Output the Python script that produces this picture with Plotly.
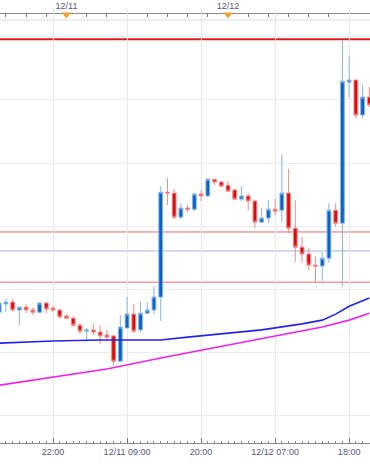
import pandas as pd
import plotly.graph_objects as go

# ---- data ----
times = pd.date_range("2012-12-10 14:00", periods=56, freq="h")

opens = [1.29528, 1.29554, 1.29560, 1.29535, 1.29544, 1.29535, 1.29528, 1.29557,
         1.29541, 1.29535, 1.29516, 1.29509, 1.29487, 1.29468, 1.29472, 1.29465,
         1.29456, 1.29453, 1.29373, 1.29478, 1.29522, 1.29472, 1.29525, 1.29535,
         1.29576, 1.29908, 1.29905, 1.29829, 1.29858, 1.29854, 1.29902, 1.29896,
         1.29949, 1.29940, 1.29930, 1.29915, 1.29886, 1.29896, 1.29880, 1.29813,
         1.29826, 1.29854, 1.29851, 1.29905, 1.29794, 1.29734, 1.29712, 1.29677,
         1.29674, 1.29699, 1.29851, 1.29810, 1.30256, 1.30263, 1.30152, 1.30209]
highs = [1.29570, 1.29570, 1.29570, 1.29544, 1.29554, 1.29544, 1.29560, 1.29560,
         1.29547, 1.29538, 1.29522, 1.29516, 1.29494, 1.29478, 1.29491, 1.29487,
         1.29472, 1.29456, 1.29519, 1.29576, 1.29554, 1.29560, 1.29560, 1.29611,
         1.29927, 1.29953, 1.29918, 1.29873, 1.29867, 1.29905, 1.29915, 1.29953,
         1.29949, 1.29943, 1.29943, 1.29918, 1.29927, 1.29905, 1.29883, 1.29858,
         1.29883, 1.29886, 1.30028, 1.29981, 1.29883, 1.29766, 1.29731, 1.29703,
         1.29718, 1.29873, 1.29873, 1.30389, 1.30339, 1.30263, 1.30247, 1.30241]
lows = [1.29509, 1.29528, 1.29530, 1.29487, 1.29525, 1.29519, 1.29525, 1.29525,
        1.29528, 1.29509, 1.29506, 1.29481, 1.29459, 1.29434, 1.29456, 1.29427,
        1.29434, 1.29361, 1.29370, 1.29478, 1.29462, 1.29465, 1.29522, 1.29522,
        1.29500, 1.29867, 1.29823, 1.29823, 1.29845, 1.29848, 1.29880, 1.29892,
        1.29930, 1.29924, 1.29908, 1.29883, 1.29880, 1.29851, 1.29794, 1.29810,
        1.29810, 1.29835, 1.29813, 1.29778, 1.29687, 1.29684, 1.29661, 1.29623,
        1.29627, 1.29684, 1.29797, 1.29611, 1.30206, 1.30142, 1.30142, 1.30177]
closes = [1.29557, 1.29560, 1.29535, 1.29544, 1.29535, 1.29528, 1.29557, 1.29538,
          1.29535, 1.29513, 1.29509, 1.29487, 1.29468, 1.29472, 1.29465, 1.29453,
          1.29449, 1.29373, 1.29481, 1.29522, 1.29468, 1.29525, 1.29535, 1.29576,
          1.29908, 1.29905, 1.29829, 1.29858, 1.29854, 1.29902, 1.29896, 1.29949,
          1.29940, 1.29927, 1.29911, 1.29886, 1.29896, 1.29880, 1.29813, 1.29826,
          1.29854, 1.29848, 1.29905, 1.29794, 1.29734, 1.29712, 1.29677, 1.29674,
          1.29699, 1.29851, 1.29810, 1.30259, 1.30263, 1.30152, 1.30209, 1.30184]

ma_fast_t = ["2012-12-10 14:00", "2012-12-10 22:00", "2012-12-11 05:00", "2012-12-11 09:00",
             "2012-12-11 14:00", "2012-12-11 18:00", "2012-12-11 23:00", "2012-12-12 05:00",
             "2012-12-12 11:00", "2012-12-12 14:00", "2012-12-12 16:00", "2012-12-12 18:00",
             "2012-12-12 21:00"]
ma_fast_v = [1.29430, 1.29437, 1.29440, 1.29440, 1.29440, 1.29449, 1.29459, 1.29472,
             1.29491, 1.29503, 1.29522, 1.29547, 1.29573]
ma_slow_t = ["2012-12-10 14:00", "2012-12-10 22:00", "2012-12-11 06:00", "2012-12-11 14:00",
             "2012-12-11 18:00", "2012-12-11 23:00", "2012-12-12 05:00", "2012-12-12 11:00",
             "2012-12-12 14:00", "2012-12-12 18:00", "2012-12-12 21:00"]
ma_slow_v = [1.29297, 1.29323, 1.29348, 1.29383, 1.29399, 1.29421, 1.29443, 1.29468,
             1.29481, 1.29503, 1.29525]

levels = [1.30392, 1.29782, 1.29722, 1.29623]
level_colors = ["#e01818", "#f26464", "#aab0dc", "#f26464"]
level_widths = [2, 1, 1, 1]

bottom_tick_t = ["2012-12-10 22:00", "2012-12-11 09:00", "2012-12-11 20:00",
                 "2012-12-12 07:00", "2012-12-12 18:00"]
bottom_tick_txt = ["22:00", "12/11 09:00", "20:00", "12/12 07:00", "18:00"]
day_t = ["2012-12-11 00:00", "2012-12-12 00:00"]
day_txt = ["12/11", "12/12"]

x_range = ["2012-12-10 14:07:12", "2012-12-12 21:06:00"]
y_range = [1.29114, 1.30453]

# ---- figure ----
fig = go.Figure()

fig.add_trace(go.Scatter(x=ma_slow_t, y=ma_slow_v, mode="lines",
                         line=dict(color="#f020f0", width=1.6), hoverinfo="skip"))
fig.add_trace(go.Scatter(x=ma_fast_t, y=ma_fast_v, mode="lines",
                         line=dict(color="#2424e8", width=1.6), hoverinfo="skip"))

fig.add_trace(go.Candlestick(
    x=times, open=opens, high=highs, low=lows, close=closes,
    increasing=dict(line=dict(color="#86b4e4", width=1), fillcolor="#0a62c6"),
    decreasing=dict(line=dict(color="#f08a8a", width=1), fillcolor="#dc0c0c"),
    whiskerwidth=0,
))

# orange day markers on top axis
fig.add_trace(go.Scatter(x=day_t, y=[0.5, 0.5], xaxis="x", yaxis="y2", mode="markers",
                         marker=dict(symbol="triangle-down", size=8, color="#f5a030"),
                         hoverinfo="skip"))
# invisible trace to drive top axis
fig.add_trace(go.Scatter(x=x_range, y=[y_range[0], y_range[0]], xaxis="x2", yaxis="y",
                         mode="markers", marker=dict(opacity=0), hoverinfo="skip"))

for lv, c, w in zip(levels, level_colors, level_widths):
    fig.add_shape(type="line", xref="paper", yref="y", x0=0, x1=1, y0=lv, y1=lv,
                  line=dict(color=c, width=w), layer="between")

top_plot = 1 - 20 / 443
fig.add_shape(type="line", xref="paper", yref="paper", x0=0, x1=1, y0=top_plot, y1=top_plot,
              line=dict(color="#d3dfeb", width=1))

font = dict(family="Liberation Sans, Arial, sans-serif", size=9, color="#555580")

fig.update_layout(
    width=370, height=466,
    margin=dict(l=0, r=0, t=0, b=23),
    paper_bgcolor="white", plot_bgcolor="white",
    showlegend=False,
    boxgap=0.2,
    xaxis=dict(
        type="date", range=x_range, rangeslider=dict(visible=False),
        tickmode="array", tickvals=bottom_tick_t, ticktext=bottom_tick_txt,
        showgrid=True, gridcolor="#e8e8ec", gridwidth=1,
        ticks="inside", ticklen=5, tickcolor="#777777", tickwidth=1,
        showline=True, linecolor="#8a8a8a", linewidth=1,
        tickfont=font,
        minor=dict(tickmode="linear", tick0="2012-12-10 22:00", dtick=3600000,
                   ticks="inside", ticklen=2, tickcolor="#888888", showgrid=False),
        zeroline=False, anchor="y",
    ),
    xaxis2=dict(
        type="date", range=x_range, overlaying="x", side="top",
        anchor="free", position=1 - 12.5 / 443,
        tickmode="array", tickvals=day_t, ticktext=day_txt,
        ticks="inside", ticklen=3, tickcolor="#777777",
        showline=True, linecolor="#8a8a8a", linewidth=1,
        showgrid=False, tickfont=font,
        minor=dict(tickmode="linear", tick0="2012-12-11 00:00", dtick=3 * 3600000,
                   ticks="inside", ticklen=3, tickcolor="#777777", showgrid=False),
    ),
    yaxis=dict(
        range=y_range, domain=[0, top_plot],
        tickmode="linear", tick0=1.2920, dtick=0.0020,
        showgrid=True, gridcolor="#ebebee", gridwidth=1,
        showticklabels=False, ticks="", zeroline=False, showline=False,
    ),
    yaxis2=dict(
        domain=[top_plot, 1 - 9 / 443], range=[0, 1], visible=False, anchor="x",
    ),
)

fig.write_html("out.html", config={"displayModeBar": False},
               post_script="document.body.style.margin='0';document.body.style.overflow='hidden';")
